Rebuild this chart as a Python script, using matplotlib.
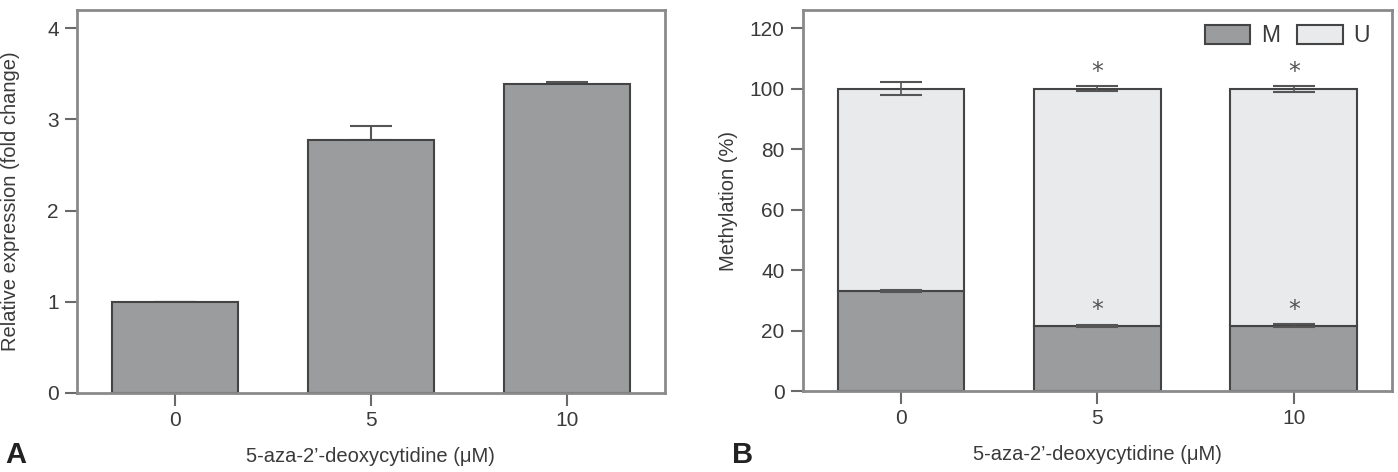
import matplotlib
matplotlib.use("Agg")
import matplotlib.pyplot as plt
from matplotlib import font_manager
from matplotlib.patches import Patch
import numpy as np

# ---- data ----
categories = ["0", "5", "10"]
expr_values = [1.0, 2.77, 3.39]
expr_errors = [0.0, 0.16, 0.02]

meth_M = [33.2, 21.4, 21.6]
meth_M_err = [0.3, 0.3, 0.5]
meth_total = [100.0, 100.0, 100.0]
meth_total_err = [2.1, 0.8, 1.0]
star_upper = [None, 105.6, 105.6]
star_lower = [None, 26.8, 26.8]

xlabel = "5-aza-2\u2019-deoxycytidine (\u03bcM)"

# ---- fonts ----
avail = {f.name for f in font_manager.fontManager.ttflist}
fam = ["Liberation Sans Narrow", "DejaVu Sans"] if "Liberation Sans Narrow" in avail else ["Liberation Sans", "DejaVu Sans"]
plt.rcParams["font.family"] = fam

dark = "#9b9c9e"
light = "#e9eaeb"
edge = "#444444"
spine_c = "#8a8a8a"
tick_c = "#6a6a6a"
text_c = "#3a3a3a"
FS = 15

fig = plt.figure(figsize=(13.98, 4.72), dpi=100)
axA = fig.add_axes([0.0549, 0.1674, 0.4208, 0.8114])
axB = fig.add_axes([0.5742, 0.1716, 0.4215, 0.8072])

x = np.arange(len(categories))
bw = 0.645

def style(ax):
    for s in ax.spines.values():
        s.set_color(spine_c)
        s.set_linewidth(2.0)
    ax.tick_params(axis="both", colors=tick_c, length=9, width=1.5,
                   labelsize=FS, labelcolor=text_c, pad=4)
    ax.set_xticks(x)
    ax.set_xticklabels(categories)
    ax.set_xlim(-0.5, 2.5)

# Panel A
axA.bar(x, expr_values, width=bw, color=dark, edgecolor=edge, linewidth=1.5, zorder=2)
axA.errorbar(x, expr_values, yerr=[np.zeros(3), expr_errors], fmt="none",
             ecolor="#555555", elinewidth=1.5, capsize=15, capthick=1.5, zorder=1)
axA.set_ylim(0, 4.2)
axA.set_yticks([0, 1, 2, 3, 4])
style(axA)
axA.set_xlabel(xlabel, fontsize=14.5, color=text_c, labelpad=12)
fig.text(0.0075, 0.574, "Relative expression (fold change)", rotation=90,
         fontsize=14.5, color=text_c, ha="center", va="center")
fig.text(0.0035, 0.006, "A", fontsize=21, fontweight="bold", color="#222222",
         ha="left", va="bottom")

# Panel B
U = np.array(meth_total) - np.array(meth_M)
axB.bar(x, meth_M, width=bw, color=dark, edgecolor=edge, linewidth=1.5, zorder=2)
axB.bar(x, U, bottom=meth_M, width=bw, color=light, edgecolor=edge, linewidth=1.5, zorder=2)
axB.errorbar(x, meth_M, yerr=meth_M_err, fmt="none", ecolor="#555555",
             elinewidth=1.2, capsize=15, capthick=1.5, zorder=3)
axB.errorbar(x, meth_total, yerr=meth_total_err, fmt="none", ecolor="#555555",
             elinewidth=1.2, capsize=15, capthick=1.5, zorder=3)
for xi, su, sl in zip(x, star_upper, star_lower):
    if su is not None:
        axB.text(xi, su, "*", ha="center", va="center", fontsize=17, color="#555555",
                 family="DejaVu Sans")
    if sl is not None:
        axB.text(xi, sl, "*", ha="center", va="center", fontsize=17, color="#555555",
                 family="DejaVu Sans")
axB.set_ylim(0, 126)
axB.set_yticks([0, 20, 40, 60, 80, 100, 120])
style(axB)
axB.set_xlabel(xlabel, fontsize=14.5, color=text_c, labelpad=12)
axB.set_ylabel("Methylation (%)", fontsize=14.5, color=text_c, labelpad=8)
fig.text(0.5235, 0.006, "B", fontsize=21, fontweight="bold", color="#222222",
         ha="left", va="bottom")

handles = [Patch(facecolor=dark, edgecolor=edge, linewidth=1.5, label="M"),
           Patch(facecolor=light, edgecolor=edge, linewidth=1.5, label="U")]
leg = axB.legend(handles=handles, ncol=2, loc="upper right", bbox_to_anchor=(0.962, 0.962),
                 frameon=False, fontsize=16.5, handlelength=2.0, handleheight=0.85,
                 handletextpad=0.45, columnspacing=0.75, borderpad=0, borderaxespad=0)
for t in leg.get_texts():
    t.set_color(text_c)

fig.savefig("out.png", dpi=100)
